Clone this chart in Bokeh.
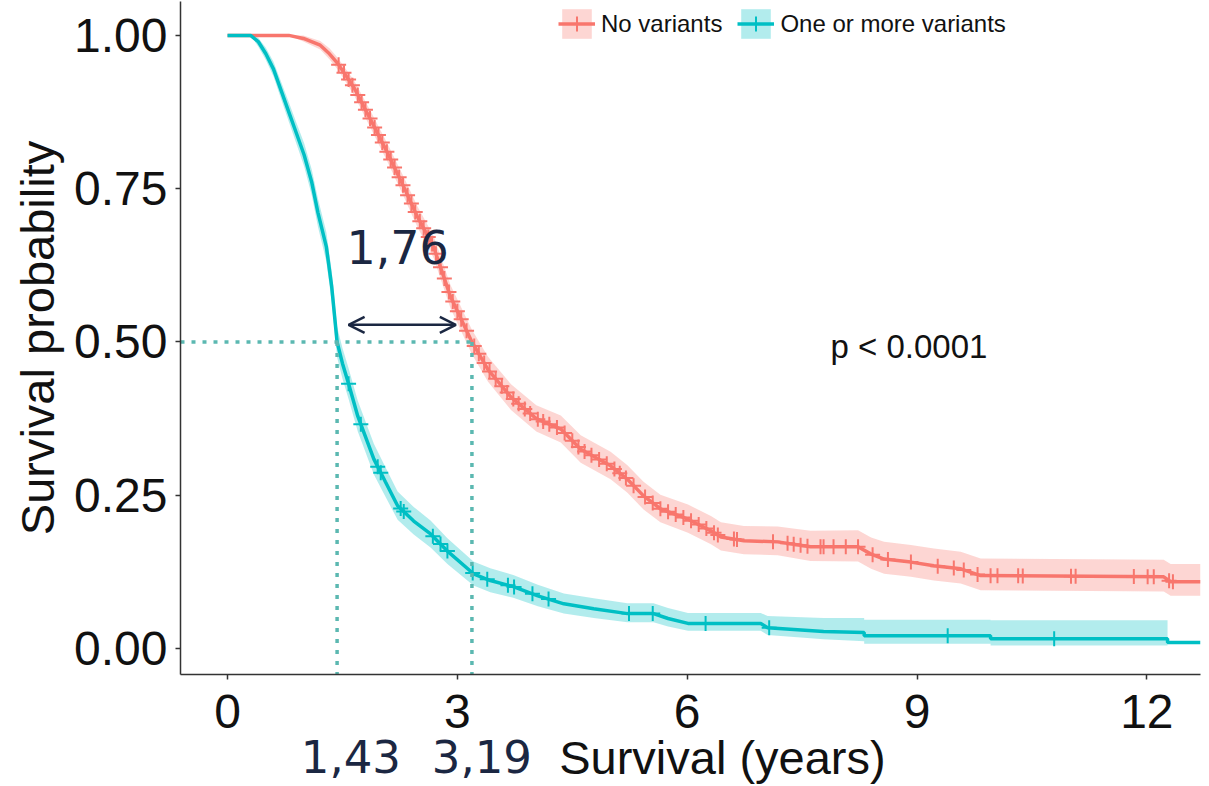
import numpy as np
from bokeh.plotting import figure
from bokeh.models import (FixedTicker, NumeralTickFormatter, Legend, LegendItem, Label,
                          Arrow, OpenHead, Range1d, LinearAxis)
from bokeh.embed import file_html
from bokeh.resources import INLINE

# ---- Kaplan-Meier estimates: "No variants" group ----
nv_time = [0.00, 0.80, 0.99, 1.21, 1.33, 1.44, 1.65, 1.87, 2.09, 2.30, 2.48, 2.69, 2.91,
           3.19, 3.40, 3.70, 4.03, 4.35, 4.61, 5.00, 5.22, 5.43, 5.65, 6.01, 6.31, 6.44,
           6.74, 7.18, 7.61, 8.23, 8.40, 8.57, 8.92, 9.22, 9.57, 9.83, 12.22, 12.31, 12.70]
nv_surv = [1.000, 1.000, 0.995, 0.984, 0.970, 0.954, 0.915, 0.862, 0.808, 0.753, 0.704,
           0.655, 0.574, 0.500, 0.455, 0.410, 0.375, 0.358, 0.325, 0.298, 0.276, 0.249,
           0.228, 0.211, 0.192, 0.182, 0.176, 0.174, 0.166, 0.166, 0.154, 0.146, 0.141,
           0.135, 0.130, 0.119, 0.117, 0.109, 0.109]
nv_lower = [1.000, 1.000, 0.990, 0.977, 0.961, 0.944, 0.903, 0.848, 0.793, 0.737, 0.687,
            0.637, 0.555, 0.480, 0.435, 0.389, 0.354, 0.336, 0.303, 0.276, 0.254, 0.227,
            0.206, 0.189, 0.170, 0.160, 0.154, 0.152, 0.143, 0.142, 0.130, 0.122, 0.117,
            0.111, 0.106, 0.095, 0.093, 0.086, 0.086]
nv_upper = [1.000, 1.000, 1.000, 0.991, 0.979, 0.963, 0.927, 0.876, 0.823, 0.769, 0.721,
            0.673, 0.593, 0.520, 0.476, 0.431, 0.397, 0.380, 0.348, 0.321, 0.299, 0.272,
            0.251, 0.235, 0.216, 0.206, 0.200, 0.199, 0.192, 0.193, 0.181, 0.174, 0.169,
            0.163, 0.158, 0.147, 0.145, 0.138, 0.138]
nv_censor = [1.45, 1.52, 1.58, 1.63, 1.70, 1.75, 1.80, 1.86, 1.92, 1.97, 2.02, 2.08, 2.13,
             2.18, 2.24, 2.29, 2.35, 2.40, 2.45, 2.51, 2.56, 2.62, 2.67, 2.72, 2.78, 2.83,
             2.89, 2.94, 3.00, 3.05, 3.12, 3.22, 3.28, 3.35, 3.42, 3.50, 3.58, 3.65, 3.73,
             3.80, 3.88, 3.95, 4.05, 4.12, 4.20, 4.30, 4.40, 4.50, 4.58, 4.66, 4.75, 4.85,
             4.95, 5.05, 5.12, 5.20, 5.30, 5.45, 5.55, 5.65, 5.75, 5.85, 5.95, 6.05, 6.15,
             6.25, 6.35, 6.40, 6.61, 6.65, 7.12, 7.31, 7.39, 7.48, 7.57, 7.74, 7.78, 7.91,
             8.07, 8.23, 8.42, 8.62, 8.92, 9.27, 9.48, 9.61, 9.79, 9.96, 10.05, 10.32,
             10.38, 11.01, 11.07, 11.83, 12.01, 12.09, 12.29, 12.34]

# ---- Kaplan-Meier estimates: "One or more variants" group ----
ov_time = [0.00, 0.30, 0.40, 0.50, 0.60, 0.70, 0.80, 0.90, 1.00, 1.10, 1.18, 1.29, 1.36,
           1.43, 1.50, 1.58, 1.70, 1.91, 2.06, 2.22, 2.43, 2.65, 2.87, 3.21, 3.43, 3.73,
           4.05, 4.39, 4.78, 5.22, 5.56, 5.75, 6.01, 6.96, 7.05, 7.78, 8.31, 8.31, 9.96,
           9.96, 12.27, 12.27, 12.70]
ov_surv = [1.000, 1.000, 0.990, 0.970, 0.945, 0.910, 0.875, 0.840, 0.805, 0.760, 0.711,
           0.655, 0.590, 0.500, 0.465, 0.432, 0.379, 0.309, 0.272, 0.233, 0.208, 0.187,
           0.159, 0.122, 0.111, 0.101, 0.086, 0.073, 0.065, 0.057, 0.057, 0.049, 0.041,
           0.041, 0.034, 0.028, 0.026, 0.021, 0.021, 0.016, 0.016, 0.010, 0.010]
ov_lower = [1.000, 1.000, 0.982, 0.960, 0.933, 0.896, 0.859, 0.823, 0.786, 0.739, 0.688,
            0.631, 0.565, 0.475, 0.440, 0.407, 0.354, 0.284, 0.248, 0.210, 0.186, 0.165,
            0.138, 0.103, 0.092, 0.083, 0.069, 0.057, 0.050, 0.043, 0.043, 0.036, 0.029,
            0.029, 0.022, 0.015, 0.012, 0.008, 0.008, 0.005, 0.005]
ov_upper = [1.000, 1.000, 0.996, 0.980, 0.957, 0.924, 0.891, 0.857, 0.824, 0.781, 0.734,
            0.679, 0.615, 0.525, 0.490, 0.457, 0.404, 0.334, 0.296, 0.256, 0.231, 0.209,
            0.180, 0.142, 0.131, 0.120, 0.104, 0.090, 0.082, 0.074, 0.074, 0.066, 0.058,
            0.058, 0.053, 0.050, 0.050, 0.047, 0.047, 0.046, 0.046]
ov_censor = [1.58, 1.74, 1.96, 2.00, 2.26, 2.30, 2.68, 2.78, 2.87, 3.20, 3.39, 3.66, 3.74,
             3.98, 4.19, 5.24, 5.55, 6.24, 7.07, 9.40, 10.79]

# median survival times (years)
median_ov = 1.43
median_nv = 3.19

groups = ["No variants", "One or more variants"]
colors = ["#F8766D", "#00BFC4"]
x_ticks = [0, 3, 6, 9, 12]
y_ticks = [0, 0.25, 0.5, 0.75, 1.0]

navy = "#1B2742"
ink = "#111111"
guide_color = "#5BB8B1"

x0, x1 = -0.614, 12.70
y0, y1 = -0.0423, 1.0553

p = figure(width=1209, height=786, output_backend="svg", toolbar_location=None,
           x_range=Range1d(x0, x1), y_range=Range1d(y0, y1),
           min_border_left=180, min_border_right=9, min_border_top=1, min_border_bottom=110)
p.outline_line_color = None
p.grid.visible = False
p.background_fill_color = "white"
p.border_fill_color = "white"

# confidence bands
bands = {}
for t, lo, hi, col in [(ov_time, ov_lower, ov_upper, colors[1]),
                       (nv_time, nv_lower, nv_upper, colors[0])]:
    bands[col] = p.varea(x=t[:len(lo)], y1=lo, y2=hi, fill_color=col, fill_alpha=0.3)

# survival curves with censoring marks
curves = {}
for t, s, cens, col in [(nv_time, nv_surv, nv_censor, colors[0]),
                        (ov_time, ov_surv, ov_censor, colors[1])]:
    ln = p.line(x=t, y=s, line_color=col, line_width=3.5)
    cy = np.interp(cens, t, s)
    mk = p.scatter(x=cens, y=cy, marker="cross", size=15, line_color=col, line_width=2)
    curves[col] = (ln, mk)

# median guide lines
p.segment(x0=[x0, median_ov, median_nv], y0=[0.5, 0.5, 0.5],
          x1=[median_nv, median_ov, median_nv], y1=[0.5, y0, y0],
          line_color=guide_color, line_width=3.5, line_dash="4 7")

# axes
p.xaxis.ticker = FixedTicker(ticks=x_ticks)
p.yaxis.ticker = FixedTicker(ticks=y_ticks)
p.yaxis.formatter = NumeralTickFormatter(format="0.00")
for ax in (p.xaxis[0], p.yaxis[0]):
    ax.axis_line_color = "#333333"
    ax.axis_line_width = 1.5
    ax.major_tick_line_color = "#333333"
    ax.major_tick_line_width = 1.5
    ax.major_tick_out = 5
    ax.major_tick_in = 0
    ax.minor_tick_line_color = None
    ax.major_label_text_font = "Liberation Sans"
    ax.major_label_text_font_size = "48px"
    ax.major_label_text_color = ink
p.xaxis.major_label_standoff = 15
p.yaxis.major_label_standoff = 8
p.yaxis.axis_label = "Survival probability"
p.yaxis.axis_label_text_font = "Liberation Sans"
p.yaxis.axis_label_text_font_size = "47px"
p.yaxis.axis_label_text_font_style = "normal"
p.yaxis.axis_label_text_color = ink
p.yaxis.axis_label_standoff = 7

fmt = lambda v: f"{v:.2f}".replace(".", ",")

# median values written under the time axis
median_axis = LinearAxis(ticker=FixedTicker(ticks=[1.61, 3.32]),
                         major_label_overrides={1.61: fmt(median_ov), 3.32: fmt(median_nv)})
# time axis title on the same row
title_axis = LinearAxis(ticker=FixedTicker(ticks=[6.46]),
                        major_label_overrides={6.46: "Survival (years)"})
for ax, font, size, col, standoff in [(median_axis, "DejaVu Sans", "45px", navy, 9),
                                      (title_axis, "Liberation Sans", "47px", ink, -45)]:
    ax.axis_line_color = None
    ax.major_tick_line_color = None
    ax.minor_tick_line_color = None
    ax.major_tick_out = 0
    ax.major_tick_in = 0
    ax.minor_tick_out = 0
    ax.minor_tick_in = 0
    ax.major_label_text_font = font
    ax.major_label_text_font_size = size
    ax.major_label_text_color = col
    ax.major_label_standoff = standoff
    p.add_layout(ax, "below")

# difference between medians
p.add_layout(Label(x=2.22, y=0.655, text=fmt(median_nv - median_ov), text_align="center",
                   text_baseline="middle", text_font="DejaVu Sans",
                   text_font_size="46px", text_color=navy))
p.add_layout(Arrow(start=OpenHead(size=16, line_width=2.5, line_color=navy),
                   end=OpenHead(size=16, line_width=2.5, line_color=navy),
                   x_start=1.58, y_start=0.528, x_end=2.98, y_end=0.528,
                   line_width=2.5, line_color=navy))

# log-rank p-value
p.add_layout(Label(x=7.87, y=0.493, text="p < 0.0001", text_align="left",
                   text_baseline="middle", text_font="Liberation Sans",
                   text_font_size="33px", text_color=ink))

legend = Legend(items=[
    LegendItem(label=groups[0], renderers=[bands[colors[0]], *curves[colors[0]]]),
    LegendItem(label=groups[1], renderers=[bands[colors[1]], *curves[colors[1]]]),
], location=(378, 632), orientation="horizontal")
legend.border_line_color = None
legend.background_fill_alpha = 0
legend.padding = 0
legend.margin = 0
legend.spacing = 15
legend.label_standoff = 6
legend.glyph_width = 37
legend.glyph_height = 37
legend.label_height = 37
legend.label_text_font = "Liberation Sans"
legend.label_text_font_size = "24px"
legend.label_text_color = ink
p.add_layout(legend)

open("out.html", "w").write(file_html(p, INLINE))
